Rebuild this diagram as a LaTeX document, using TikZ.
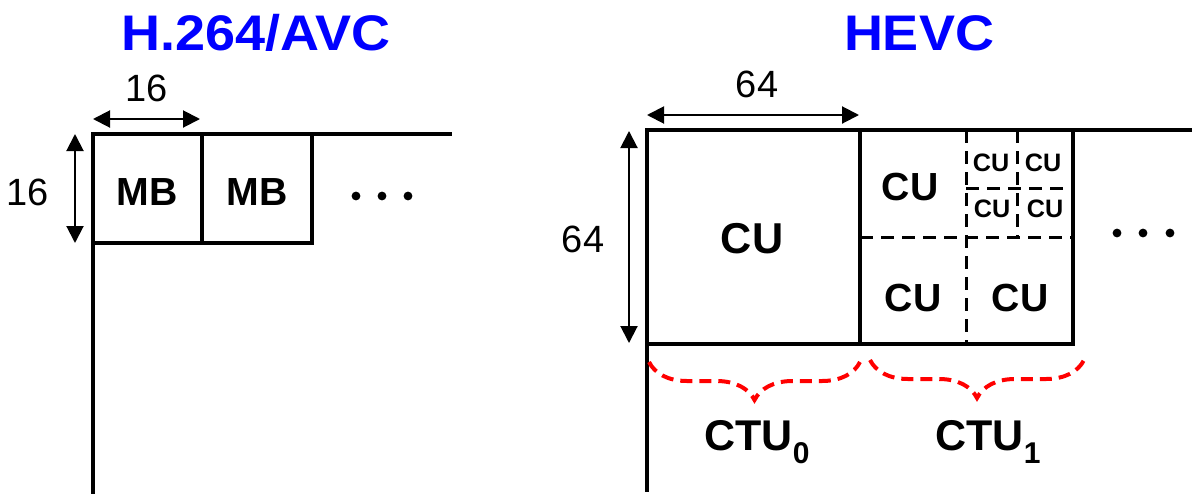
\documentclass[tikz,border=0pt]{standalone}
\usepackage{fontspec}
\setmainfont{Liberation Sans}
\newfontfamily\hdrfont{Liberation Sans}[FakeStretch=1.08]
\usetikzlibrary{arrows.meta,decorations.pathreplacing}
\tikzset{
  wall/.style    ={line width=1.6pt, line cap=rect},
  split/.style   ={line width=1.5pt, dash pattern=on 6.5pt off 4pt},
  dim/.style     ={{Triangle[length=8.5pt,width=8.5pt]}-{Triangle[length=8.5pt,width=8.5pt]},
                   line width=1pt},
  hdr/.style     ={font=\hdrfont\fontsize{25}{25}\selectfont\bfseries, text=blue, anchor=base},
  num/.style     ={font=\fontsize{19}{19}\selectfont, anchor=base},
  unit/.style    ={font=\fontsize{19.6}{20}\selectfont\bfseries, anchor=base},
  bigunit/.style ={font=\fontsize{21.6}{22}\selectfont\bfseries, anchor=base},
  cusmall/.style ={font=\fontsize{12.6}{13}\selectfont\bfseries, anchor=base},
  ctu/.style     ={font=\fontsize{21.5}{22}\selectfont\bfseries, anchor=base},
  dotc/.style    ={circle, fill, inner sep=0pt, minimum size=4.4pt},
  ctubrace/.style={draw=red, line width=2pt, dash pattern=on 6pt off 3.5pt,
                   decorate, decoration={brace, mirror, amplitude=19pt}},
}
\newcommand{\ctusub}[1]{CTU\raisebox{-6.5pt}{\fontsize{15}{15}\selectfont #1}}

\begin{document}
\begin{tikzpicture}[x=0.5pt,y=-0.5pt]
  \useasboundingbox (0,0) rectangle (1192,493);

  \node[hdr](avc)  at (256,50){H.264/AVC};
  \node[hdr](hevc) at (919,50){HEVC};

  % H.264/AVC macroblocks
  \coordinate (mbTL) at (93,134);
  \coordinate (mbBL) at (93,243);
  \draw[wall] (450,134) -- (mbTL) -- (93,493);
  \draw[wall] (mbBL) -- (312,243) -- (312,134);
  \draw[wall] (202,134) -- (202,243);
  \node[unit](mb1) at (147,205){MB};
  \node[unit](mb2) at (257,205){MB};
  \foreach \x/\n in {356/1,382/2,408/3}
    \node[dotc](avcdot\n) at (\x,196){};

  \coordinate (mbw0) at (93,119);
  \coordinate (mbw1) at (200,119);
  \coordinate (mbh0) at (75,134);
  \coordinate (mbh1) at (75,243);
  \draw[dim](mbw0) -- (mbw1);
  \draw[dim](mbh0) -- (mbh1);
  \node[num](mbwl) at (147,101){16};
  \node[num](mbhl) at (28,205){16};

  % HEVC coding tree units
  \coordinate (ctTL) at (647,130);
  \draw[wall] (1192,130) -- (ctTL) -- (647,490);
  \draw[wall] (647,344) -- (1073,344) -- (1073,130);
  \draw[wall] (860,130) -- (860,344);
  \draw[split] (860,237) -- (1073,237);
  \draw[split] (966,130) -- (966,344);
  \draw[split] (966,188) -- (1073,188);
  \draw[split] (1017,130) -- (1017,237);

  \node[bigunit](cu0) at (752,253){CU};
  \node[unit](cu1)  at (910,200){CU};
  \node[unit](cu2)  at (913,311){CU};
  \node[unit](cu3)  at (1020,311){CU};
  \node[cusmall](cu4) at (991,171){CU};
  \node[cusmall](cu5) at (1043,171){CU};
  \node[cusmall](cu6) at (992,217){CU};
  \node[cusmall](cu7) at (1045,217){CU};
  \foreach \x/\n in {1117/1,1143/2,1170/3}
    \node[dotc](hevcdot\n) at (\x,233){};

  \coordinate (ctw0) at (647,115);
  \coordinate (ctw1) at (859,115);
  \coordinate (cth0) at (629,131);
  \coordinate (cth1) at (629,343);
  \draw[dim](ctw0) -- (ctw1);
  \draw[dim](cth0) -- (cth1);
  \node[num](ctwl) at (757,97){64};
  \node[num](cthl) at (583,252){64};

  % braces
  \coordinate (b0s) at (649,362);
  \coordinate (b0e) at (860,362);
  \coordinate (b1s) at (870,360);
  \coordinate (b1e) at (1084,360);
  \draw[ctubrace](b0s) -- (b0e);
  \draw[ctubrace](b1s) -- (b1e);
  \node[ctu](ctu0) at (757,450){\ctusub{0}};
  \node[ctu](ctu1) at (988,450){\ctusub{1}};
\end{tikzpicture}
\end{document}
